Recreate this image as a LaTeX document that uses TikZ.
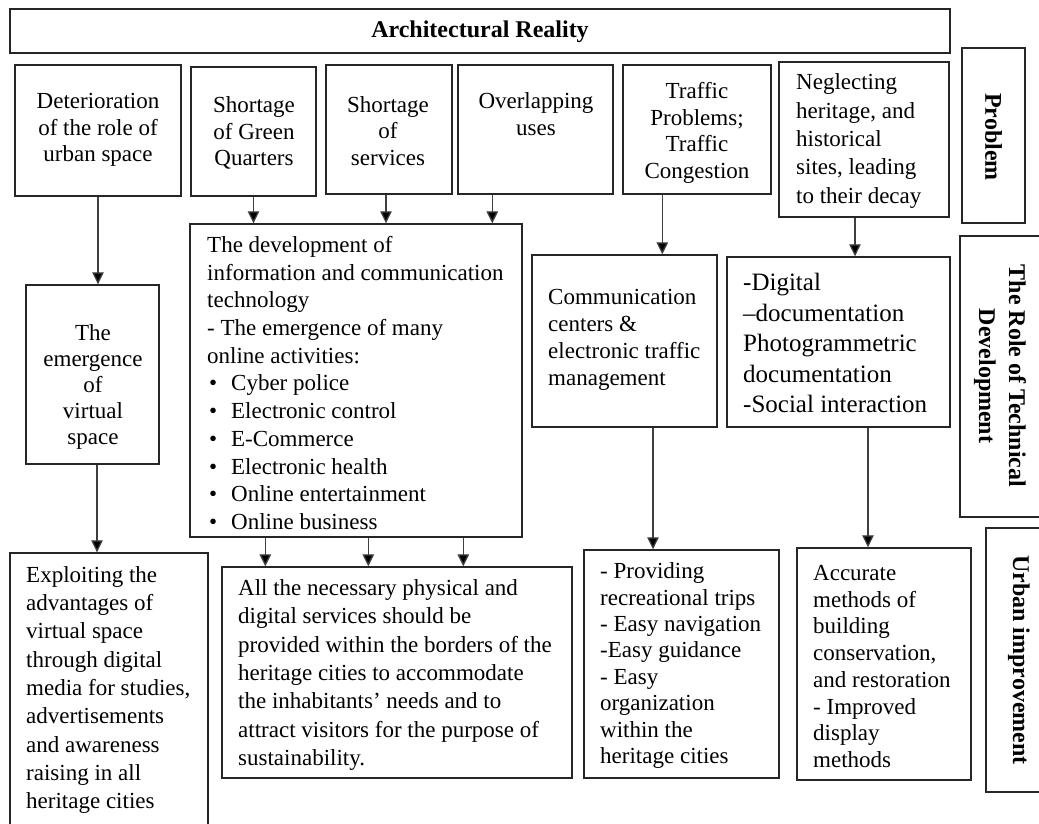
\documentclass[tikz,border=0pt]{standalone}
\usepackage{fontspec}
\setmainfont{Liberation Serif}
\usetikzlibrary{arrows.meta}
\newcommand\dbul{\hspace*{2pt}\makebox[22pt][l]{\textbullet}}
\begin{document}
\begin{tikzpicture}[x=1pt,y=-1pt,
  box/.style={draw=black!85, line width=1.4pt, inner sep=0pt},
  txt/.style={inner sep=0pt, font=\fontsize{23}{26.5}\selectfont},
  ltxt/.style={txt, anchor=west, align=left},
  ctxt/.style={txt, align=center},
  lab/.style={inner sep=0pt, font=\bfseries\fontsize{24}{30}\selectfont},
  conn/.style={line width=1.3pt, draw=black!75, -{Triangle[width=11.5pt,length=12pt,fill=black]}}
]
\useasboundingbox (0,0) rectangle (1039,823);
\fill[white] (0,0) rectangle (1039,823);
\clip (0,0) rectangle (1039,823);

% frames
\node[box, minimum width=940pt, minimum height=44pt] (title) at (480,31) {};
\node[box, minimum width=63pt, minimum height=175pt] (prob) at (993.5,135.5) {};
\node[box, minimum width=90pt, minimum height=281pt] (role) at (1005,376.5) {};
\node[box, minimum width=64pt, minimum height=264pt] (urban) at (1018,660) {};

\node[box, minimum width=166pt, minimum height=131pt] (b1) at (98,130.5) {};
\node[box, minimum width=125pt, minimum height=129pt] (b2) at (253.5,131.5) {};
\node[box, minimum width=126pt, minimum height=129pt] (b3) at (389,129.5) {};
\node[box, minimum width=155pt, minimum height=129pt] (b4) at (535.5,129.5) {};
\node[box, minimum width=148pt, minimum height=129pt] (b5) at (697,129.5) {};
\node[box, minimum width=170pt, minimum height=155pt] (b6) at (864,139.5) {};

\node[box, minimum width=133pt, minimum height=179pt] (emerg) at (92.5,374.5) {};
\node[box, minimum width=332pt, minimum height=313pt] (dev) at (356,380.5) {};
\node[box, minimum width=185pt, minimum height=172pt] (comm) at (624.5,341) {};
\node[box, minimum width=223pt, minimum height=170pt] (digi) at (838.5,342) {};

\node[box, minimum width=198pt, minimum height=297pt] (expl) at (109,701.5) {};
\node[box, minimum width=350pt, minimum height=211pt] (alln) at (397,672.5) {};
\node[box, minimum width=195pt, minimum height=228pt] (prov) at (681.5,664) {};
\node[box, minimum width=174pt, minimum height=232pt] (accu) at (884,664) {};

% texts
\node[lab] (ttitle) at (480,32) {Architectural Reality};
\node[lab, rotate=-90] (tprob) at (993.5,137) {Problem};
\node[lab, rotate=-90, align=center] (trole) at (1000,376) {The Role of Technical\\Development};
\node[lab, rotate=-90] (turban) at (1019,660) {Urban improvement};

\node[ctxt] (tb1) at (98,130) {Deterioration\\of the role of\\urban space};
\node[ctxt] (tb2) at (254,133) {Shortage\\of Green\\Quarters};
\node[ctxt] (tb3) at (388,131) {Shortage\\of\\services};
\node[ctxt] (tb4) at (536,114) {Overlapping\\uses};
\node[ctxt] (tb5) at (697,133) {Traffic\\Problems;\\Traffic\\Congestion};
\node[ltxt, font=\fontsize{23}{28.3}\selectfont] (tb6) at (796,141) {Neglecting\\heritage, and\\historical\\sites, leading\\to their decay};

\node[ctxt, font=\fontsize{23}{26}\selectfont] (temerg) at (93,387) {The\\emergence\\of\\virtual\\space};
\node[ltxt, font=\fontsize{23}{27.7}\selectfont] (tdev) at (207,383) {The development of\\information and communication\\technology\\- The emergence of many\\online activities:\\\dbul Cyber police\\\dbul Electronic control\\\dbul E-Commerce\\\dbul Electronic health\\\dbul Online entertainment\\\dbul Online business};
\node[ltxt, font=\fontsize{23}{27}\selectfont] (tcomm) at (548,340) {Communication\\centers \&\\electronic traffic\\management};
\node[ltxt, font=\fontsize{25}{30.5}\selectfont] (tdigi) at (743,343) {-Digital\\–documentation\\Photogrammetric\\documentation\\-Social interaction};

\node[ltxt, font=\fontsize{23}{28.3}\selectfont] (texpl) at (26,690) {Exploiting the\\advantages of\\virtual space\\through digital\\media for studies,\\advertisements\\and awareness\\raising in all\\heritage cities};
\node[ltxt, font=\fontsize{23}{28.3}\selectfont] (talln) at (238,675) {All the necessary physical and\\digital services should be\\provided within the borders of the\\heritage cities to accommodate\\the inhabitants’ needs and to\\attract visitors for the purpose of\\sustainability.};
\node[ltxt, font=\fontsize{23}{26.4}\selectfont] (tprov) at (600,665.5) {- Providing\\recreational trips\\- Easy navigation\\-Easy guidance\\- Easy\\organization\\within the\\heritage cities};
\node[ltxt, font=\fontsize{23}{26.7}\selectfont] (taccu) at (813,666.5) {Accurate\\methods of\\building\\conservation,\\and restoration\\- Improved\\display\\methods};

% connector start points
\coordinate (a1) at (b1.south);
\coordinate (a2) at (b2.south);
\coordinate (a3) at ([xshift=-3pt]b3.south);
\coordinate (a4) at ([xshift=35pt]b4.south west);
\coordinate (a5) at ([xshift=40pt]b5.south west);
\coordinate (a6) at ([xshift=-9pt]b6.south);
\coordinate (ae) at ([xshift=4.5pt]emerg.south);
\coordinate (d1) at ([xshift=76pt]dev.south west);
\coordinate (d2) at ([xshift=179pt]dev.south west);
\coordinate (d3) at ([xshift=274pt]dev.south west);
\coordinate (ac) at ([xshift=28.5pt]comm.south);
\coordinate (ad) at ([xshift=29.5pt]digi.south);

\draw[conn] (a1) -- (a1 |- emerg.north);
\draw[conn] (a2) -- (a2 |- dev.north);
\draw[conn] (a3) -- (a3 |- dev.north);
\draw[conn] (a4) -- (a4 |- dev.north);
\draw[conn] (a5) -- (a5 |- comm.north);
\draw[conn] (a6) -- (a6 |- digi.north);
\draw[conn] (ae) -- (ae |- expl.north);
\draw[conn] (d1) -- (d1 |- alln.north);
\draw[conn] (d2) -- (d2 |- alln.north);
\draw[conn] (d3) -- (d3 |- alln.north);
\draw[conn] (ac) -- (ac |- prov.north);
\draw[conn] (ad) -- (ad |- accu.north);
\end{tikzpicture}
\end{document}
